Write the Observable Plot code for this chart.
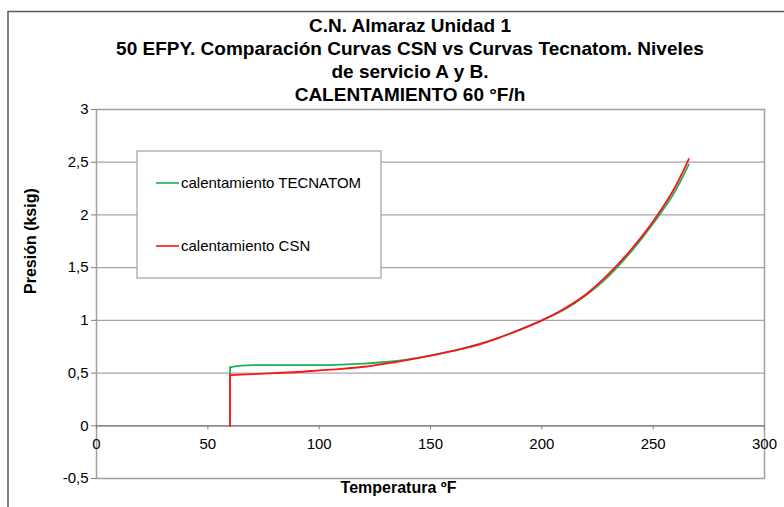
<!DOCTYPE html>
<html><head><meta charset="utf-8">
<script src="https://cdn.jsdelivr.net/npm/d3@7"></script>
<script src="https://cdn.jsdelivr.net/npm/@observablehq/plot@0.6"></script>
<style>
body{margin:0;background:#fff}
svg{font-family:"Liberation Sans",Arial,sans-serif}
</style>
</head><body><div id="chart"></div>
<script>
const titleLines = [
  "C.N. Almaraz Unidad 1",
  "50 EFPY. Comparación Curvas CSN vs Curvas Tecnatom. Niveles",
  "de servicio A y B.",
  "CALENTAMIENTO 60 °F/h"
];
const xLabel = "Temperatura ºF";
const yLabel = "Presión (ksig)";
const seriesNames = ["calentamiento TECNATOM", "calentamiento CSN"];
const seriesColors = ["#1fae5a", "#ff1414"];

const tempTecnatom = [60, 60, 65, 70, 80, 90, 100, 110, 120, 130, 140, 150, 160, 170, 180, 190, 200, 210, 220, 230, 240, 250, 260, 266];
const presTecnatom = [0, 0.555, 0.57, 0.575, 0.575, 0.575, 0.575, 0.58, 0.59, 0.605, 0.63, 0.665, 0.71, 0.765, 0.83, 0.91, 1.0, 1.10, 1.24, 1.42, 1.65, 1.92, 2.23, 2.48];

const tempCSN = [60, 60, 70, 80, 90, 100, 110, 120, 130, 140, 150, 160, 170, 180, 190, 200, 210, 220, 230, 240, 250, 260, 266];
const presCSN = [0, 0.48, 0.49, 0.5, 0.51, 0.525, 0.54, 0.56, 0.59, 0.625, 0.665, 0.71, 0.76, 0.83, 0.91, 1.0, 1.11, 1.25, 1.44, 1.67, 1.94, 2.27, 2.53];

const xTicks = [0, 50, 100, 150, 200, 250, 300];
const yTicks = [-0.5, 0, 0.5, 1, 1.5, 2, 2.5, 3];

// split each series into its vertical jump (first two points) and the smooth curve
function rows(name, temps, pres) {
  const jump = temps.slice(0, 2).map((t, i) => ({serie: name, t, p: pres[i]}));
  const curve = temps.slice(1).map((t, i) => ({serie: name, t, p: pres[i + 1]}));
  return {jump, curve};
}
const sT = rows(seriesNames[0], tempTecnatom, presTecnatom);
const sC = rows(seriesNames[1], tempCSN, presCSN);
const jumps = [...sT.jump, ...sC.jump];
const curves = [...sT.curve, ...sC.curve];

const W = 784, H = 507;
const mL = 96, mR = 20, mT = 109, mB = 29;

const chart = Plot.plot({
  width: W, height: H,
  marginLeft: mL, marginRight: mR, marginTop: mT, marginBottom: mB,
  style: {fontFamily: '"Liberation Sans", Arial, sans-serif', fontSize: "15px", color: "#000", background: "#fff", overflow: "visible"},
  x: {domain: [0, 300], axis: null},
  y: {domain: [-0.5, 3], axis: null},
  color: {domain: seriesNames, range: seriesColors},
  marks: [
    Plot.gridY(yTicks, {stroke: "#a6a6a6", strokeOpacity: 1, strokeWidth: 1.2}),
    Plot.frame({stroke: "#a0a0a0", strokeWidth: 1.5}),
    Plot.ruleY([0], {stroke: "#7f7f7f", strokeWidth: 1.2}),
    Plot.ruleX(xTicks, {y1: 0, y2: 0, insetBottom: -4, stroke: "#7f7f7f"}),
    Plot.text(xTicks, {x: d => d, y: 0, dy: 18, text: d => String(d), fontSize: 15, fill: "#000"}),
    Plot.axisY(yTicks, {tickFormat: d => String(d).replace(".", ","), tickSize: 5, tickPadding: 3, fontSize: 15, label: null, stroke: "#7f7f7f"}),
    Plot.line(jumps, {x: "t", y: "p", z: "serie", stroke: "serie", strokeWidth: 1.8}),
    Plot.line(curves, {x: "t", y: "p", z: "serie", stroke: "serie", strokeWidth: 1.8, curve: "monotone-x"}),
    Plot.text([yLabel], {frameAnchor: "left", dx: -66, rotate: -90, fontWeight: "bold", fontSize: 16}),
    Plot.text([xLabel], {frameAnchor: "bottom", dx: -32, dy: 14, fontWeight: "bold", fontSize: 16})
  ]
});

document.getElementById("chart").appendChild(chart);
const svg = d3.select(chart);

// outer chart border
svg.append("rect").attr("x", 8).attr("y", 11.5).attr("width", 900).attr("height", 700)
  .attr("fill", "none").attr("stroke", "#5a5a5a").attr("stroke-width", 1.5);

// title
const tg = svg.append("g").attr("font-weight", "bold").attr("font-size", 19).attr("text-anchor", "middle").attr("fill", "#000");
titleLines.forEach((s, i) => {
  tg.append("text").attr("x", 410).attr("y", 32 + i * 23).text(s);
});

// legend
const lg = svg.append("g").attr("text-anchor", "start");
lg.append("rect").attr("x", 137).attr("y", 151).attr("width", 244).attr("height", 127)
  .attr("fill", "#fff").attr("stroke", "#a0a0a0").attr("stroke-width", 1.2);
const legY = [183, 246];
seriesNames.forEach((n, i) => {
  lg.append("line").attr("x1", 156).attr("x2", 179).attr("y1", legY[i]).attr("y2", legY[i])
    .attr("stroke", seriesColors[i]).attr("stroke-width", 1.6);
  lg.append("text").attr("x", 181).attr("y", legY[i] + 5).attr("font-size", 15).attr("fill", "#000").text(n);
});
</script>
</body></html>
